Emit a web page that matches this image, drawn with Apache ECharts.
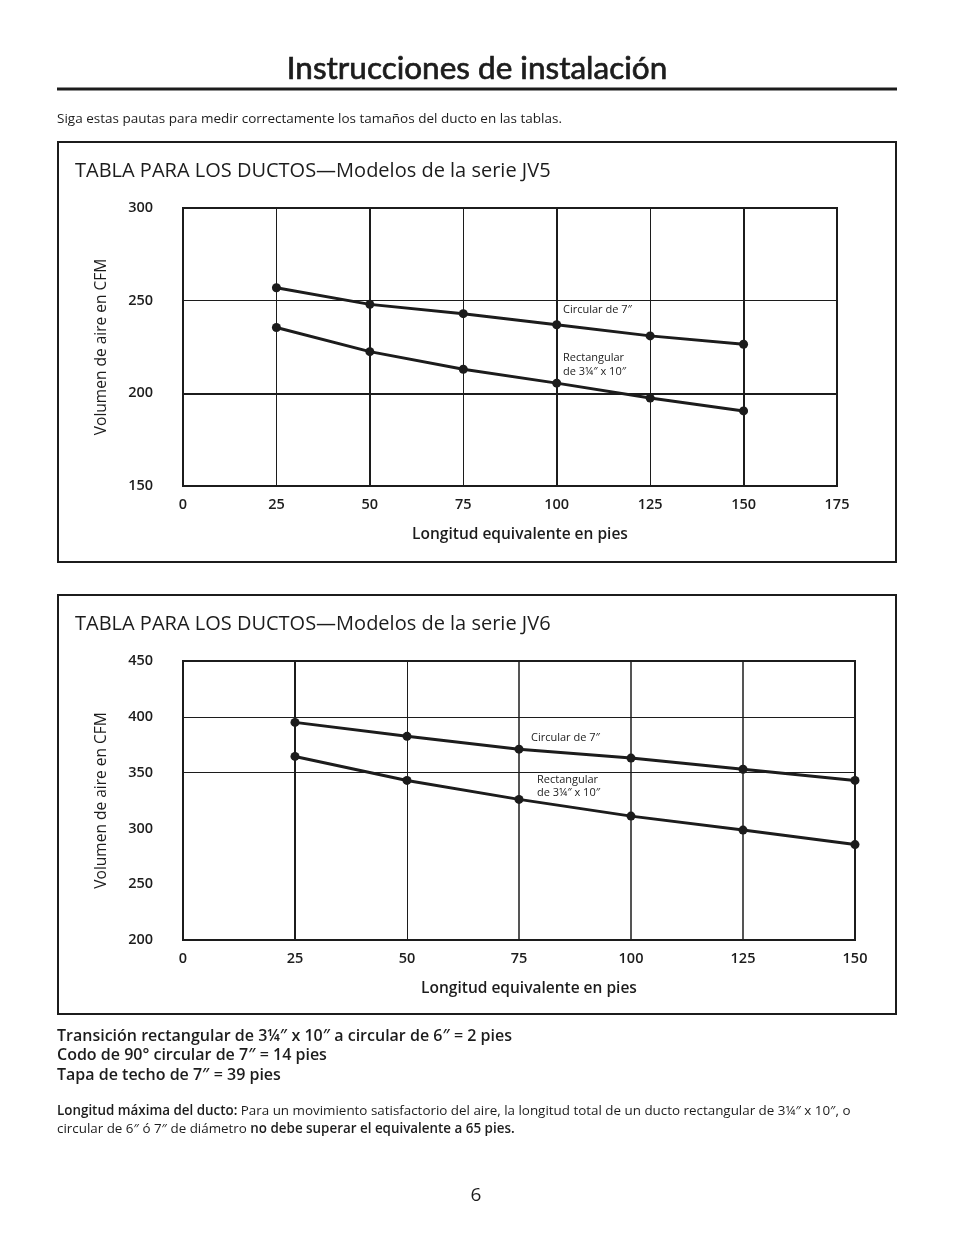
<!DOCTYPE html>
<html>
<head>
<meta charset="utf-8">
<script src="https://cdn.jsdelivr.net/npm/echarts@6/dist/echarts.min.js"></script>
<style>
html,body{margin:0;padding:0;background:#fff;}
#c{width:954px;height:1235px;}
</style>
</head>
<body>
<div id="c"></div>
<script>
// ---- data ----
const lengthsFt = [25, 50, 75, 100, 125, 150];
const jv5Circular = [257, 248, 243, 237, 231, 226.5];
const jv5Rect = [235.5, 222.5, 213, 205.5, 197.5, 190.5];
const jv6Circular = [395, 382.5, 371, 363, 353, 343];
const jv6Rect = [364.5, 343, 326, 311, 298.5, 285.5];
const jv5GridX = [25, 50, 75, 100, 125, 150];
const jv5GridY = [250, 200];
const jv6GridX = [25, 50, 75, 100, 125];
const jv6GridY = [400, 350];

const INK = '#1c1c1c';
const FONT = '"Open Sans"';
const TFONT = 'Lato';

function pairs(xs, ys){ return xs.map((x,i)=>[x, ys[i]]); }

function dataSeries(name, vals, idx){
  return {
    name, type:'line', xAxisIndex:idx, yAxisIndex:idx,
    data: pairs(lengthsFt, vals),
    symbol:'circle', symbolSize:9, showSymbol:true,
    lineStyle:{color:INK, width:3},
    itemStyle:{color:INK},
    z:5, silent:true
  };
}
function gridSeries(idx, xs, ys, xw, yw){
  const d = [];
  xs.forEach((v,i)=>d.push({xAxis:v, lineStyle:{width:xw[i]}}));
  ys.forEach((v,i)=>d.push({yAxis:v, lineStyle:{width:yw[i]}}));
  return {
    type:'line', xAxisIndex:idx, yAxisIndex:idx, data:[], z:1, silent:true,
    markLine:{symbol:['none','none'], silent:true, label:{show:false},
      lineStyle:{color:INK, type:'solid'}, emphasis:{disabled:true}, animation:false, data:d}
  };
}
const tickLbl = {color:INK, fontFamily:FONT, fontWeight:600, fontSize:14.5};
function xAx(idx, max){
  return {gridIndex:idx, type:'value', min:0, max:max, interval:25,
    axisLine:{show:false}, axisTick:{show:false}, splitLine:{show:false},
    axisLabel:Object.assign({margin:11}, tickLbl),
    name:'Longitud equivalente en pies', nameLocation:'middle', nameGap:41,
    nameTextStyle:{color:INK, fontFamily:FONT, fontWeight:600, fontSize:15.5, padding:[0,0,0,20]}};
}
function yAx(idx, min, max){
  return {gridIndex:idx, type:'value', min:min, max:max, interval:50,
    axisLine:{show:false}, axisTick:{show:false}, splitLine:{show:false},
    axisLabel:Object.assign({margin:30, align:'right'}, tickLbl),
    name:'Volumen de aire en CFM', nameLocation:'middle', nameGap:73, nameRotate:90,
    nameTextStyle:{color:INK, fontFamily:FONT, fontSize:15.5}};
}
function txt(x,y,text,size,opt){
  opt = opt||{};
  return Object.assign({type:'text', x:x, y:y, silent:true,
    style:Object.assign({text:text, fill:INK, font:(opt.weight?opt.weight+' ':'')+size+'px '+(opt.family||FONT),
      textVerticalAlign:'middle'}, opt.style||{})}, opt.el||{});
}

const chart = echarts.init(document.getElementById('c'), null, {renderer:'canvas'});
chart.setOption({
  animation:false,
  backgroundColor:'#fff',
  grid:[
    {left:183, top:208, width:654, height:278, show:true, borderColor:INK, borderWidth:2, backgroundColor:'transparent'},
    {left:183, top:661, width:672, height:279, show:true, borderColor:INK, borderWidth:2, backgroundColor:'transparent'}
  ],
  xAxis:[xAx(0,175), xAx(1,150)],
  yAxis:[yAx(0,150,300), yAx(1,200,450)],
  series:[
    gridSeries(0, jv5GridX, jv5GridY, [1,2,1,2,1,2], [1,2]),
    gridSeries(1, jv6GridX, jv6GridY, [2,1,1.5,1.5,1.5], [1,1]),
    dataSeries('Circular de 7″ JV5', jv5Circular, 0),
    dataSeries('Rectangular JV5', jv5Rect, 0),
    dataSeries('Circular de 7″ JV6', jv6Circular, 1),
    dataSeries('Rectangular JV6', jv6Rect, 1)
  ],
  graphic:[
    txt(477, 69, 'Instrucciones de instalación', 31.5, {family:TFONT, style:{textAlign:'center', stroke:INK, lineWidth:0.7}}),
    {type:'rect', shape:{x:57, y:87.5, width:840, height:3}, style:{fill:INK}, silent:true},
    txt(57, 119, 'Siga estas pautas para medir correctamente los tamaños del ducto en las tablas.', 13.5),
    {type:'rect', shape:{x:58, y:142, width:838, height:420}, style:{fill:'none', stroke:INK, lineWidth:2}, silent:true},
    {type:'rect', shape:{x:58, y:595, width:838, height:419}, style:{fill:'none', stroke:INK, lineWidth:2}, silent:true},
    txt(75, 171, 'TABLA PARA LOS DUCTOS—Modelos de la serie JV5', 20, {weight:500}),
    txt(75, 624, 'TABLA PARA LOS DUCTOS—Modelos de la serie JV6', 20, {weight:500}),
    txt(563, 310, 'Circular de 7″', 11),
    txt(563, 358, 'Rectangular', 11),
    txt(563, 372, 'de 3¼″ x 10″', 11),
    txt(531, 738, 'Circular de 7″', 11),
    txt(537, 780, 'Rectangular', 11),
    txt(537, 793, 'de 3¼″ x 10″', 11),
    txt(57, 1036, 'Transición rectangular de 3¼″ x 10″ a circular de 6″ = 2 pies', 16, {weight:600}),
    txt(57, 1055, 'Codo de 90° circular de 7″ = 14 pies', 16, {weight:600}),
    txt(57, 1075, 'Tapa de techo de 7″ = 39 pies', 16, {weight:600}),
    {type:'text', x:57, y:1111, silent:true, style:{
      text:'{b|Longitud máxima del ducto:} Para un movimiento satisfactorio del aire, la longitud total de un ducto rectangular de 3¼″ x 10″, o',
      font:'13.4px '+FONT, fill:INK, textVerticalAlign:'middle',
      rich:{b:{font:'600 13.4px '+FONT, fill:INK}}}},
    {type:'text', x:57, y:1129, silent:true, style:{
      text:'circular de 6″ ó 7″ de diámetro {b|no debe superar el equivalente a 65 pies.}',
      font:'13.4px '+FONT, fill:INK, textVerticalAlign:'middle',
      rich:{b:{font:'600 13.4px '+FONT, fill:INK}}}},
    txt(476, 1196, '6', 19, {style:{textAlign:'center'}})
  ]
});
</script>
</body>
</html>
